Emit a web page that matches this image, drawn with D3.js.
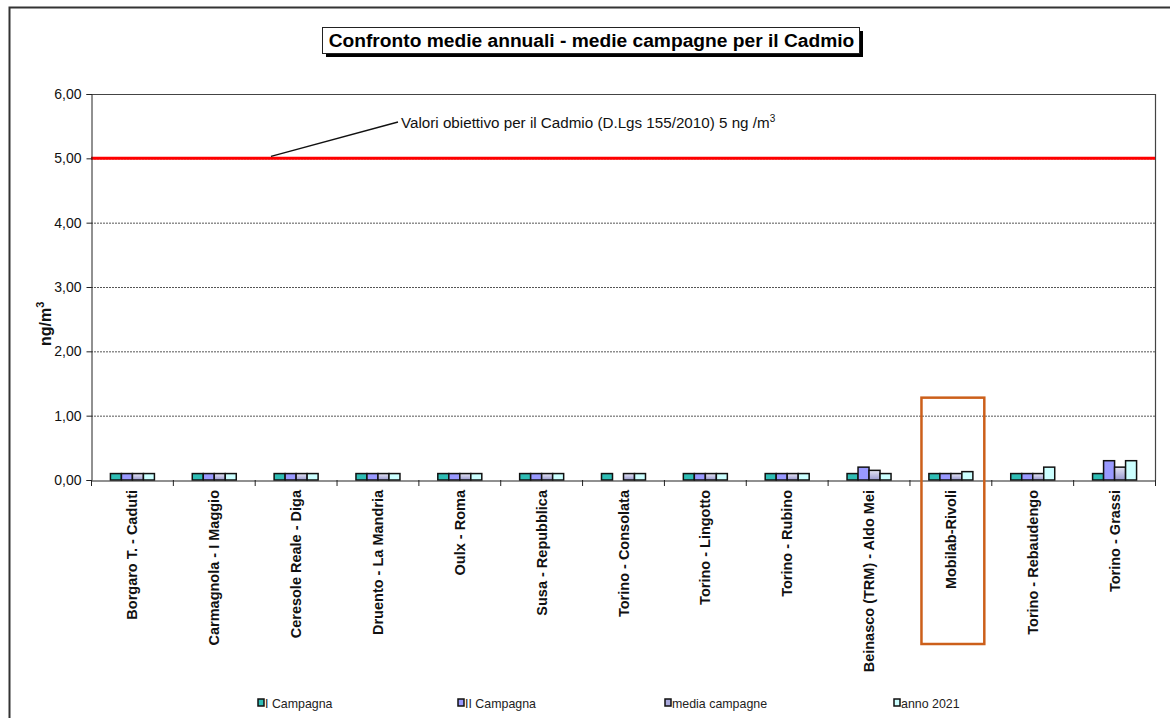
<!DOCTYPE html>
<html>
<head>
<meta charset="utf-8">
<script src="https://cdn.jsdelivr.net/npm/d3@7/dist/d3.min.js"></script>
<style>
  html, body { margin: 0; padding: 0; background: #fff; }
  svg { display: block; font-family: "Liberation Sans", Arial, sans-serif; }
</style>
</head>
<body>
<svg id="chart" width="1170" height="718"></svg>
<script>
// Stations (x categories)
const stations = [
  "Borgaro T. - Caduti", "Carmagnola - I Maggio", "Ceresole Reale - Diga",
  "Druento - La Mandria", "Oulx - Roma", "Susa - Repubblica", "Torino - Consolata",
  "Torino - Lingotto", "Torino - Rubino", "Beinasco (TRM) - Aldo Mei",
  "Mobilab-Rivoli", "Torino - Rebaudengo", "Torino - Grassi"
];
// Cadmium concentrations, ng/m3 (null = no data)
const primaCampagna   = [0.1, 0.1, 0.1, 0.1, 0.1, 0.1, 0.1, 0.1, 0.1, 0.1, 0.1, 0.1, 0.1];
const secondaCampagna = [0.1, 0.1, 0.1, 0.1, 0.1, 0.1, null, 0.1, 0.1, 0.2, 0.1, 0.1, 0.3];
const mediaCampagne   = [0.1, 0.1, 0.1, 0.1, 0.1, 0.1, 0.1, 0.1, 0.1, 0.15, 0.1, 0.1, 0.2];
const anno2021        = [0.1, 0.1, 0.1, 0.1, 0.1, 0.1, 0.1, 0.1, 0.1, 0.1, 0.13, 0.2, 0.3];
const seriesNames = ["I Campagna", "II Campagna", "media campagne", "anno 2021"];
const yTicks = [0, 1, 2, 3, 4, 5, 6];
const targetValue = 5;
const highlighted = "Mobilab-Rivoli";

const svg = d3.select("#chart");
const defs = svg.append("defs");
const grad = defs.append("linearGradient").attr("id", "mediaGrad")
  .attr("x1", 0).attr("y1", 0).attr("x2", 0).attr("y2", 1);
grad.append("stop").attr("offset", "0%").attr("stop-color", "#e4e4f4");
grad.append("stop").attr("offset", "100%").attr("stop-color", "#9a9ad0");

const fills = ["#2fbdb5", "#9999ff", "url(#mediaGrad)", "#ccffff"];
const legendFills = ["#2fbdb5", "#9999ff", "#a9a9dc", "#ccffff"];

// Outer frame
svg.append("path").attr("d", "M9.5,718 V7.5 H1170")
  .attr("fill", "none").attr("stroke", "#333").attr("stroke-width", 2);

const plot = { left: 91, right: 1155, top: 94, bottom: 480 };

const x = d3.scaleBand().domain(stations).range([plot.left, plot.right]);
const y = d3.scaleLinear().domain([0, 6]).range([plot.bottom, plot.top]);
const xs = d3.scaleBand().domain(seriesNames).range([0, 44]);

// Gridlines
svg.append("g").selectAll("line").data(yTicks.filter(t => t > 0 && t < 6)).join("line")
  .attr("x1", plot.left).attr("x2", plot.right)
  .attr("y1", d => y(d) + 0.5).attr("y2", d => y(d) + 0.5)
  .attr("stroke", "#555").attr("stroke-width", 1).attr("stroke-dasharray", "2,1");

// Plot frame (top and right)
svg.append("path")
  .attr("d", `M${plot.left},${plot.top + 0.5} H${plot.right + 0.5} V${plot.bottom}`)
  .attr("fill", "none").attr("stroke", "#444").attr("stroke-width", 1.2);

// Bars
const seriesData = [primaCampagna, secondaCampagna, mediaCampagne, anno2021];
const groups = svg.append("g").selectAll("g").data(stations).join("g")
  .attr("transform", d => `translate(${x(d) + (x.bandwidth() - 44) / 2},0)`);
groups.selectAll("rect")
  .data((d, i) => seriesNames.map((s, k) => ({ s, k, v: seriesData[k][i] })).filter(e => e.v != null))
  .join("rect")
  .attr("x", e => xs(e.s) + 0.5)
  .attr("width", xs.bandwidth())
  .attr("y", e => y(e.v))
  .attr("height", e => y(0) - y(e.v))
  .attr("fill", e => fills[e.k])
  .attr("stroke", "#111").attr("stroke-width", 1.5);

// Target value line
svg.append("line")
  .attr("x1", plot.left).attr("x2", plot.right)
  .attr("y1", y(targetValue)).attr("y2", y(targetValue))
  .attr("stroke", "#ff0000").attr("stroke-width", 3);

// Axes
const yAxis = d3.axisLeft(y).tickValues(yTicks).tickSize(5)
  .tickFormat(d => d3.format(".2f")(d).replace(".", ","));
const gy = svg.append("g").attr("transform", `translate(${plot.left + 0.5},0)`).call(yAxis);
gy.select(".domain").attr("stroke", "#222");
gy.selectAll(".tick line").attr("stroke", "#222");
gy.selectAll(".tick text").attr("font-size", 14).attr("fill", "#111")
  .attr("font-family", "Liberation Sans, Arial, sans-serif").attr("dx", -2);

const xAxis = d3.axisBottom(x).tickSize(0).tickFormat("");
const gx = svg.append("g").attr("transform", `translate(0,${plot.bottom + 0.5})`).call(xAxis);
gx.select(".domain").attr("stroke", "#222").attr("stroke-width", 1.2);
// Category separator ticks
svg.append("g").selectAll("line")
  .data(stations.map(s => x(s)).concat([plot.right])).join("line")
  .attr("x1", d => d + 0.5).attr("x2", d => d + 0.5)
  .attr("y1", plot.bottom).attr("y2", plot.bottom + 6)
  .attr("stroke", "#222");

// Category labels (vertical)
svg.append("g").selectAll("text").data(stations).join("text")
  .attr("transform", d => `translate(${x(d) + x.bandwidth() / 2 + 5.5},${plot.bottom + 10}) rotate(-90)`)
  .attr("text-anchor", "end")
  .attr("font-size", 14.5).attr("font-weight", "bold").attr("fill", "#111")
  .text(d => d);

// Highlight box around one station
const hx = x(highlighted);
svg.append("rect")
  .attr("x", hx + 12).attr("y", y(1.28))
  .attr("width", x.bandwidth() - 19).attr("height", 644 - y(1.28))
  .attr("fill", "none").attr("stroke", "#cc5f1a").attr("stroke-width", 2.5);

// Y axis title
const yt = svg.append("text")
  .attr("transform", `translate(51,346) rotate(-90)`)
  .attr("font-size", 16).attr("font-weight", "bold").attr("fill", "#111");
yt.append("tspan").text("ng/m");
yt.append("tspan").attr("font-size", 11).attr("dy", -7).text("3");

// Annotation for the target value
svg.append("line")
  .attr("x1", 271).attr("y1", y(targetValue) - 2)
  .attr("x2", 398).attr("y2", 122)
  .attr("stroke", "#111").attr("stroke-width", 1.3);
const ann = svg.append("text").attr("x", 401).attr("y", 128)
  .attr("font-size", 15.2).attr("fill", "#111");
ann.append("tspan").text("Valori obiettivo per il Cadmio (D.Lgs 155/2010) 5 ng /m");
ann.append("tspan").attr("font-size", 10).attr("dy", -6).text("3");

// Title box with shadow
const tb = { x: 322, y: 27, w: 537, h: 26 };
svg.append("rect").attr("x", tb.x + 4).attr("y", tb.y + 4).attr("width", tb.w).attr("height", tb.h)
  .attr("fill", "#000");
svg.append("rect").attr("x", tb.x + 0.5).attr("y", tb.y + 0.5).attr("width", tb.w).attr("height", tb.h)
  .attr("fill", "#fff").attr("stroke", "#222").attr("stroke-width", 1);
svg.append("text").attr("x", tb.x + tb.w / 2 + 1).attr("y", tb.y + 20)
  .attr("text-anchor", "middle").attr("font-size", 19.2).attr("font-weight", "bold").attr("fill", "#000")
  .text("Confronto medie annuali - medie campagne per il Cadmio");

// Legend
const legendX = [258, 458, 665, 894];
const lg = svg.append("g").selectAll("g").data(seriesNames).join("g")
  .attr("transform", (d, i) => `translate(${legendX[i]},699)`);
lg.append("rect").attr("width", 6).attr("height", 7)
  .attr("fill", (d, i) => legendFills[i]).attr("stroke", "#111").attr("stroke-width", 1.5);
lg.append("text").attr("x", 7).attr("y", 8.5).attr("font-size", 12.4).attr("fill", "#222")
  .text(d => d);
</script>
</body>
</html>
